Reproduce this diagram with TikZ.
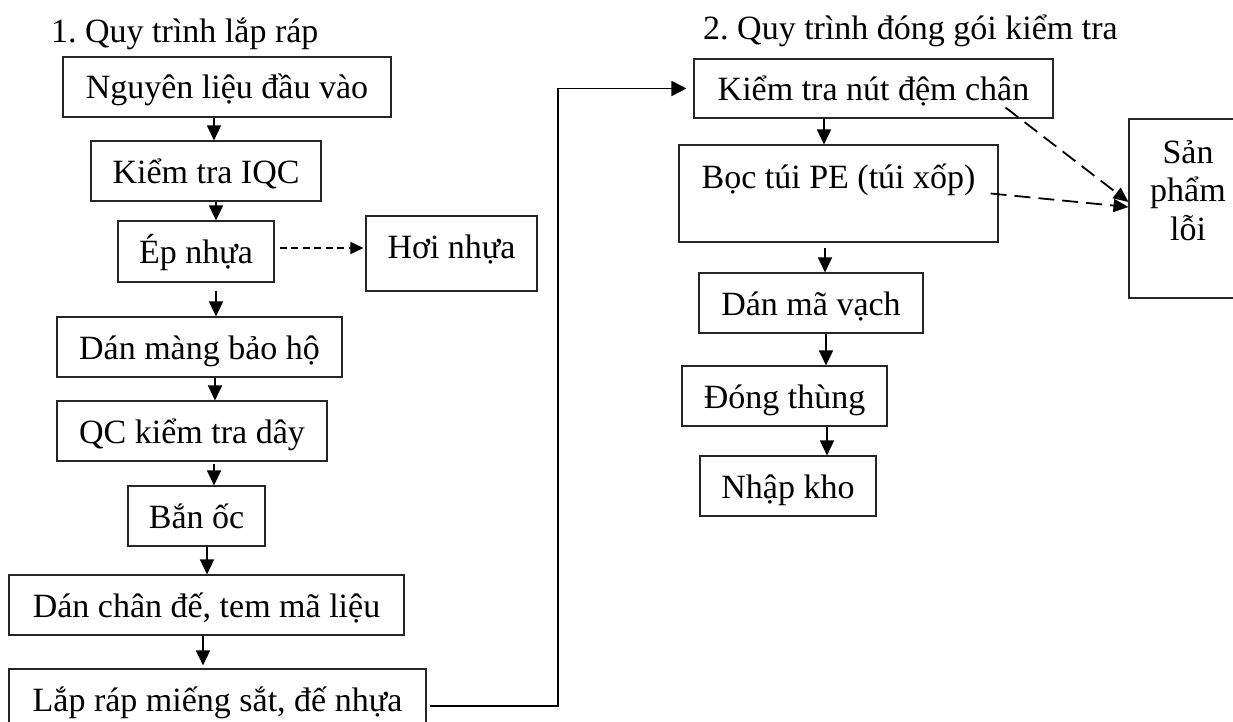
\documentclass[tikz,border=0pt]{standalone}
\usepackage{fontspec}
\setmainfont{Liberation Serif}
\usetikzlibrary{arrows.meta}

\tikzset{
  txt/.style={font=\fontsize{34}{38.5}\selectfont},
  stepbox/.style={txt, draw=black!85, line width=1.1pt, inner sep=0pt,
    text height=28pt, text depth=4pt},
  heading/.style={txt, anchor=base west, inner sep=0pt},
  flow/.style={line width=1.5pt, -{Triangle[length=15pt,width=14pt]}},
  link/.style={line width=1.7pt, -{Triangle[length=15pt,width=15pt]}},
  sidearr/.style={line width=1.3pt, dash pattern=on 7pt off 4.5pt,
    -{Triangle[length=13pt,width=12pt]}},
  rejectarr/.style={line width=1.8pt, dash pattern=on 16pt off 8pt,
    -{Triangle[length=15pt,width=13pt]}}
}

\begin{document}
\begin{tikzpicture}[x=1pt,y=-1pt]
\path[use as bounding box, clip] (0,0) rectangle (1233,722);

% headings
\node[heading] (h1) at (51,43) {1.\ Quy trình lắp ráp};
\node[heading] (h2) at (703,40) {2.\ Quy trình đóng gói kiểm tra};

% assembly line
\node[stepbox, minimum width=328pt, minimum height=60pt] (b1) at (227,87) {Nguyên liệu đầu vào};
\node[stepbox, minimum width=230pt, minimum height=60pt] (b2) at (206,171) {Kiểm tra IQC};
\node[stepbox, minimum width=156pt, minimum height=61pt] (b3) at (196,251.5) {Ép nhựa};
\node[stepbox, minimum width=171pt, minimum height=75pt, text depth=18pt] (hn) at (451.5,253.5) {Hơi nhựa};
\node[stepbox, minimum width=285pt, minimum height=60pt] (dm) at (199.5,347) {Dán màng bảo hộ};
\node[stepbox, minimum width=270pt, minimum height=60pt] (qc) at (192,431) {QC kiểm tra dây};
\node[stepbox, minimum width=137pt, minimum height=60pt] (bo) at (196.5,516) {Bắn ốc};
\node[stepbox, minimum width=395pt, minimum height=60pt] (dc) at (206.5,605) {Dán chân đế, tem mã liệu};
\node[stepbox, minimum width=417pt, minimum height=60pt] (lr) at (217.5,699) {Lắp ráp miếng sắt, đế nhựa};

% packing and inspection line
\node[stepbox, minimum width=359pt, minimum height=59pt] (kt) at (873.5,88.5) {Kiểm tra nút đệm chân};
\node[stepbox, minimum width=319pt, minimum height=97pt, text depth=37pt] (bt) at (838.5,193.5) {Bọc túi PE (túi xốp)};
\node[stepbox, minimum width=224pt, minimum height=60pt] (mv) at (811,303) {Dán mã vạch};
\node[stepbox, minimum width=205pt, minimum height=60pt] (dt) at (784.5,396) {Đóng thùng};
\node[stepbox, minimum width=176pt, minimum height=60pt] (nk) at (788,486) {Nhập kho};
\node[stepbox, minimum width=118pt, minimum height=179pt, align=center,
      text height=91pt, text depth=28pt] (sp) at (1188,208.5) {Sản\\phẩm\\lỗi};

% assembly flow
\draw[flow] (b1.south -| 214,0) -- (b2.north -| 214,0);
\draw[flow] (b2.south -| 216,0) -- (b3.north -| 216,0);
\draw[flow, shorten <=8pt] (b3.south -| 216,0) -- (dm.north -| 216,0);
\draw[flow] (dm.south -| 215,0) -- (qc.north -| 215,0);
\draw[flow, shorten <=2pt] (qc.south -| 214,0) -- (bo.north -| 214,0);
\draw[flow] (bo.south -| 207,0) -- (dc.north -| 207,0);
\draw[flow, shorten >=3pt] (dc.south -| 203,0) -- (lr.north -| 203,0);

% plastic fumes
\coordinate (fume) at ([xshift=5pt,yshift=3.5pt]b3.east);
\draw[sidearr, shorten >=2pt] (fume) -- (fume -| hn.west);

% hand-over to packing
\coordinate (turn) at (558,88.5);
\draw[link, shorten >=7pt] ([xshift=3pt,yshift=-7pt]lr.east) -| (turn) -- (kt.west);

% packing flow
\draw[flow] (kt.south -| 824,0) -- (bt.north -| 824,0);
\draw[flow, shorten <=5pt] (bt.south -| 825,0) -- (mv.north -| 825,0);
\draw[flow] (mv.south -| 826,0) -- (dt.north -| 826,0);
\draw[flow] (dt.south -| 827,0) -- (nk.north -| 827,0);

% rejects
\draw[rejectarr] ([xshift=-48pt,yshift=11pt]kt.south east) -- ([yshift=6.5pt]sp.west);
\draw[rejectarr] ([xshift=-8pt]bt.east) -- ([yshift=1.5pt]sp.west);
\end{tikzpicture}
\end{document}
